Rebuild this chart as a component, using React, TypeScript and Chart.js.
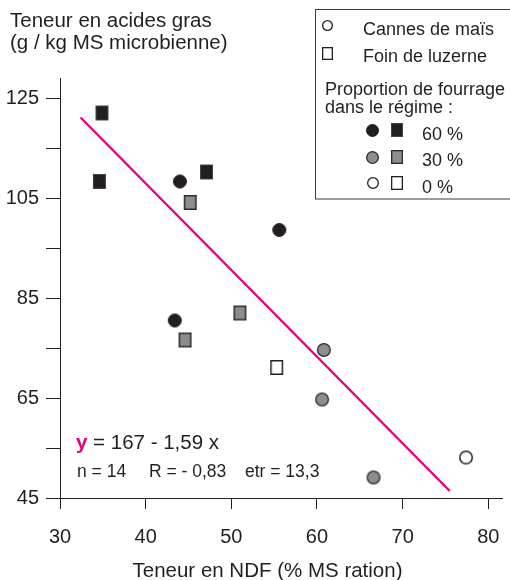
import { useEffect, useRef } from 'react';
import { Chart, registerables } from 'chart.js';

Chart.register(...registerables);

// ---- Data -----------------------------------------------------------------
const xTickValues = [30, 40, 50, 60, 70, 80];
const xTickLabels = ['30', '40', '50', '60', '70', '80'];
const yTickValues = [45, 55, 65, 75, 85, 95, 105, 115, 125];
const yTickLabels = ['45', '', '65', '', '85', '', '105', '', '125'];

// Cannes de maïs (circles)
const mais60X = [44.0, 55.6, 43.4];
const mais60Y = [108.3, 98.6, 80.5];
const mais30X = [60.8, 60.6, 66.6];
const mais30Y = [74.6, 64.7, 49.1];
const mais0X = [77.4];
const mais0Y = [53.1];

// Foin de luzerne (squares)
const luz60X = [34.9, 34.6, 47.1];
const luz60Y = [122.0, 108.3, 110.2];
const luz30X = [45.2, 51.0, 44.6];
const luz30Y = [104.1, 82.0, 76.6];
const luz0X = [55.3];
const luz0Y = [71.1];

// Regression line (as drawn)
const regX = [32.4, 75.5];
const regY = [121.1, 46.4];

const yTitle = ['Teneur en acides gras', '(g / kg MS microbienne)'];
const xTitle = 'Teneur en NDF (% MS ration)';
const legendCorn = 'Cannes de maïs';
const legendAlfalfa = 'Foin de luzerne';
const legendProp = ['Proportion de fourrage', 'dans le régime :'];
const legendLevels = ['60 %', '30 %', '0 %'];
const eqY = 'y';
const eqRest = ' = 167 - 1,59 x';
const statN = 'n = 14';
const statR = 'R = - 0,83';
const statEtr = 'etr = 13,3';

// ---- Styles ---------------------------------------------------------------
const FONT = "'Liberation Sans', Arial, Helvetica, sans-serif";
const TEXT = '#231f20';
const AXIS = '#231f20';
const MAGENTA = '#e5007e';
const BLACK_FILL = '#231f20';
const GREY_FILL = '#8c8d90';
const WHITE_FILL = '#ffffff';

const pts = (xs: number[], ys: number[]) => xs.map((x, i) => ({ x, y: ys[i] }));

function circleMarker(d: number, fill: string, stroke: string, lw: number) {
  const s = d + 2;
  const c = document.createElement('canvas');
  c.width = s;
  c.height = s;
  const g = c.getContext('2d')!;
  g.beginPath();
  g.arc(s / 2, s / 2, d / 2 - lw / 2, 0, Math.PI * 2);
  g.fillStyle = fill;
  g.fill();
  g.lineWidth = lw;
  g.strokeStyle = stroke;
  g.stroke();
  return c;
}

function rectMarker(w: number, h: number, fill: string, stroke: string, lw: number) {
  const c = document.createElement('canvas');
  c.width = w + 2;
  c.height = h + 2;
  const g = c.getContext('2d')!;
  g.fillStyle = fill;
  g.fillRect(1, 1, w, h);
  g.lineWidth = lw;
  g.strokeStyle = stroke;
  g.strokeRect(1 + lw / 2, 1 + lw / 2, w - lw, h - lw);
  return c;
}

function drawMarker(ctx: CanvasRenderingContext2D, img: HTMLCanvasElement, x: number, y: number) {
  ctx.drawImage(img, Math.round(x - img.width / 2), Math.round(y - img.height / 2));
}

export default function App() {
  const ref = useRef<HTMLCanvasElement | null>(null);

  useEffect(() => {
    const canvas = ref.current;
    if (!canvas) return;

    const mC60 = circleMarker(14, BLACK_FILL, BLACK_FILL, 1);
    const mC30 = circleMarker(14, GREY_FILL, '#2d2a2b', 1.3);
    const mC0 = circleMarker(14, WHITE_FILL, TEXT, 1.5);
    const mS60 = rectMarker(13, 15, BLACK_FILL, '#444', 1);
    const mS30 = rectMarker(13, 15, GREY_FILL, '#2d2a2b', 1.5);
    const mS0 = rectMarker(13, 15, WHITE_FILL, TEXT, 1.5);

    const lC = circleMarker(11, WHITE_FILL, TEXT, 1.3);
    const lS = rectMarker(11, 13, WHITE_FILL, TEXT, 1.3);
    const lC60 = circleMarker(13, BLACK_FILL, BLACK_FILL, 1);
    const lC30 = circleMarker(13, GREY_FILL, '#2d2a2b', 1.3);
    const lC0 = circleMarker(12, WHITE_FILL, TEXT, 1.3);
    const lS60 = rectMarker(12, 14, BLACK_FILL, '#444', 1);
    const lS30 = rectMarker(12, 14, GREY_FILL, '#2d2a2b', 1.3);
    const lS0 = rectMarker(12, 14, WHITE_FILL, TEXT, 1.3);

    const annotations = {
      id: 'annotations',
      afterDraw(chart: any) {
        const ctx: CanvasRenderingContext2D = chart.ctx;
        ctx.save();
        ctx.fillStyle = TEXT;
        ctx.textBaseline = 'alphabetic';
        ctx.textAlign = 'left';

        // y-axis title
        ctx.font = `20.5px ${FONT}`;
        ctx.fillText(yTitle[0], 10, 27);
        ctx.fillText(yTitle[1], 10, 48.5);

        // x-axis title
        ctx.textAlign = 'center';
        ctx.fillText(xTitle, 267.5, 577);
        ctx.textAlign = 'left';

        // legend box
        ctx.strokeStyle = '#3a3a3a';
        ctx.lineWidth = 1;
        ctx.strokeRect(315.5, 9.5, 220, 189.5);

        ctx.font = `18px ${FONT}`;
        drawMarker(ctx, lC, 327, 25);
        ctx.fillText(legendCorn, 363, 35);
        drawMarker(ctx, lS, 327, 53);
        ctx.fillText(legendAlfalfa, 363, 62);
        ctx.fillText(legendProp[0], 325, 95);
        ctx.fillText(legendProp[1], 325, 113);

        drawMarker(ctx, lC60, 372.5, 130);
        drawMarker(ctx, lS60, 397, 130);
        ctx.fillText(legendLevels[0], 422, 140);
        drawMarker(ctx, lC30, 372.5, 157);
        drawMarker(ctx, lS30, 397, 157);
        ctx.fillText(legendLevels[1], 422, 166);
        drawMarker(ctx, lC0, 372.5, 183);
        drawMarker(ctx, lS0, 397, 183);
        ctx.fillText(legendLevels[2], 422, 193);

        // equation
        ctx.font = `bold 20.5px ${FONT}`;
        ctx.fillStyle = MAGENTA;
        ctx.fillText(eqY, 76, 449);
        const w = ctx.measureText(eqY).width;
        ctx.font = `20.5px ${FONT}`;
        ctx.fillStyle = TEXT;
        ctx.fillText(eqRest, 76 + w, 449);

        ctx.font = `17.5px ${FONT}`;
        ctx.fillText(statN, 77, 477);
        ctx.fillText(statR, 149, 477);
        ctx.fillText(statEtr, 245, 477);

        ctx.restore();
      },
    };

    const scatterDs = (label: string, xs: number[], ys: number[], img: HTMLCanvasElement) => ({
      type: 'scatter' as const,
      label,
      data: pts(xs, ys),
      pointStyle: img,
      pointRadius: 7,
      order: 1,
    });

    const chart = new Chart(canvas, {
      type: 'scatter',
      data: {
        datasets: [
          {
            type: 'line',
            label: 'régression',
            data: pts(regX, regY),
            borderColor: MAGENTA,
            borderWidth: 2.4,
            pointRadius: 0,
            fill: false,
            order: 0,
          } as any,
          scatterDs('maïs 60 %', mais60X, mais60Y, mC60),
          scatterDs('maïs 30 %', mais30X, mais30Y, mC30),
          scatterDs('maïs 0 %', mais0X, mais0Y, mC0),
          scatterDs('luzerne 60 %', luz60X, luz60Y, mS60),
          scatterDs('luzerne 30 %', luz30X, luz30Y, mS30),
          scatterDs('luzerne 0 %', luz0X, luz0Y, mS0),
        ],
      },
      options: {
        animation: false,
        responsive: false,
        events: [],
        layout: { padding: { top: 78, left: 0, right: 0, bottom: 0 } },
        plugins: { legend: { display: false }, tooltip: { enabled: false } },
        scales: {
          x: {
            type: 'linear',
            min: 30,
            max: 81.6,
            afterBuildTicks: (s: any) => {
              s.ticks = xTickValues.map((v) => ({ value: v }));
            },
            afterFit: (s: any) => {
              s.height = 82;
              s.paddingLeft = 0;
              s.paddingRight = 0;
              s.paddingTop = 0;
              s.paddingBottom = 0;
            },
            ticks: {
              autoSkip: false,
              maxRotation: 0,
              padding: 16,
              color: TEXT,
              font: { family: FONT, size: 20 },
              callback: (_v: any, i: number) => xTickLabels[i],
            },
            grid: { drawOnChartArea: false, drawTicks: true, tickLength: 11, color: AXIS, lineWidth: 1 },
            border: { display: true, color: AXIS, width: 1 },
          },
          y: {
            type: 'linear',
            min: 45,
            max: 129,
            afterBuildTicks: (s: any) => {
              s.ticks = yTickValues.map((v) => ({ value: v }));
            },
            afterFit: (s: any) => {
              s.width = 60;
              s.paddingLeft = 0;
              s.paddingRight = 0;
              s.paddingTop = 0;
              s.paddingBottom = 0;
            },
            ticks: {
              autoSkip: false,
              padding: 7,
              color: TEXT,
              font: { family: FONT, size: 20 },
              callback: (_v: any, i: number) => yTickLabels[i],
            },
            grid: { drawOnChartArea: false, drawTicks: true, tickLength: 14, color: AXIS, lineWidth: 1 },
            border: { display: true, color: AXIS, width: 1 },
          },
        },
      },
      plugins: [annotations],
    });

    return () => chart.destroy();
  }, []);

  return (
    <div style={{ position: 'absolute', left: 0, top: 0, width: 510, height: 580, background: '#fff' }}>
      <canvas ref={ref} width={510} height={580} style={{ display: 'block' }} />
    </div>
  );
}
